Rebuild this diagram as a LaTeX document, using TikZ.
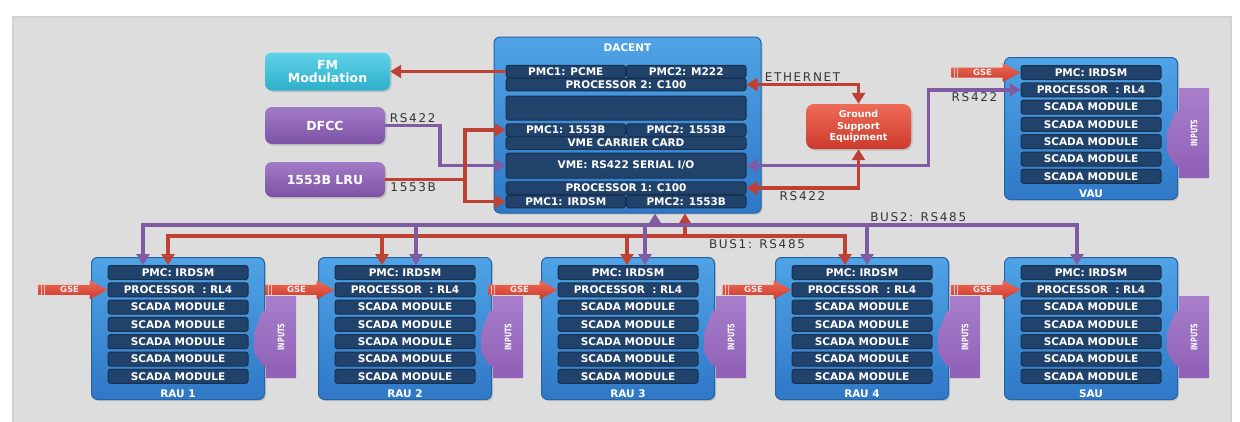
\documentclass[tikz,border=0pt]{standalone}
\usepackage{fontspec}
\setmainfont{DejaVu Sans}
\newfontfamily\linkfamily[LetterSpace=14]{DejaVu Sans}
\usetikzlibrary{positioning, chains, arrows.meta, shadows}

\definecolor{panelgray}{HTML}{DDDDDD}
\definecolor{boxtop}{HTML}{4FA3E6}
\definecolor{boxbot}{HTML}{2F78C6}
\definecolor{boxedge}{HTML}{2563A8}
\definecolor{rowfill}{HTML}{21426B}
\definecolor{rowedge}{HTML}{173152}
\definecolor{linkred}{HTML}{BF4134}
\definecolor{linkpurple}{HTML}{7E5BA3}
\definecolor{linkgray}{HTML}{353535}
\definecolor{fmtop}{HTML}{5ED2E8}
\definecolor{fmbot}{HTML}{2FAFCB}
\definecolor{lrutop}{HTML}{A27BC6}
\definecolor{lrubot}{HTML}{7D52A6}
\definecolor{gsetop}{HTML}{EE6B57}
\definecolor{gsebot}{HTML}{CC3A2C}
\definecolor{inputtop}{HTML}{A87ECC}
\definecolor{inputbot}{HTML}{8F60B6}

\newcommand{\rowfont}{\fontsize{10.5}{12}\selectfont\bfseries}
\newcommand{\linkfont}{\fontsize{12}{14}\selectfont\linkfamily}

\tikzset{
  unitbox/.style={draw=boxedge, line width=1pt, rounded corners=6pt,
    top color=boxtop, bottom color=boxbot,
    drop shadow={opacity=0.3, shadow xshift=1.5pt, shadow yshift=-1.5pt}},
  cardrow/.style={draw=rowedge, line width=1pt, fill=rowfill, rounded corners=2.5pt,
    text=white, font=\rowfont, inner sep=0pt, minimum width=140pt, minimum height=14pt},
  halfrow/.style={cardrow, minimum width=119.5pt, minimum height=12.5pt},
  fullrow/.style={cardrow, minimum width=240pt, minimum height=12.5pt},
  unitname/.style={text=white, font=\rowfont, inner sep=0pt},
  extbox/.style={rounded corners=7pt, text=white, align=center, inner sep=0pt,
    drop shadow={opacity=0.3, shadow xshift=1.5pt, shadow yshift=-1.5pt}},
  fmbox/.style={extbox, top color=fmtop, bottom color=fmbot},
  lrubox/.style={extbox, top color=lrutop, bottom color=lrubot},
  gsebox/.style={extbox, top color=gsetop, bottom color=gsebot, rounded corners=8pt},
  redlink/.style={draw=linkred, line width=3.5pt},
  purplelink/.style={draw=linkpurple, line width=3.5pt},
  linktext/.style={font=\linkfont, text=linkgray, inner sep=1.5pt},
  gsearrow/.style={top color=gsetop, bottom color=gsebot},
  gsetext/.style={text=white!90!linkred, font=\fontsize{8.5}{9}\selectfont\bfseries, inner sep=0pt},
  inputs/.style={top color=inputtop, bottom color=inputbot},
  inputtext/.style={text=white, font=\fontsize{9}{10}\selectfont\bfseries, rotate=90, inner sep=0pt},
  >={Triangle[length=11pt, width=13pt]}
}

\begin{document}
\begin{tikzpicture}[x=1pt, y=-1pt]
  \useasboundingbox (0,0) rectangle (1240,421);
  \fill[white] (0,0) rectangle (1240,421);
  \filldraw[panelgray, draw=black!18, line width=1.5pt] (13,17) rectangle (1231,430);

  % DACENT chassis
  \node[unitbox, minimum width=267pt, minimum height=176pt] (dacent) at (627.5,125) {};
  \node[unitname, below=7pt of dacent.north] (dac-title) {DACENT};

  \node[halfrow] (dac-pcme)  at (565.75,71.5) {PMC1: PCME};
  \node[halfrow] (dac-m222)  at (686.25,71.5) {PMC2: M222};
  \node[fullrow] (dac-p2)    at (626,84.5)    {PROCESSOR 2: C100};
  \node[fullrow, minimum height=24pt] (dac-spare) at (626,108) {};
  \node[halfrow] (dac-1553a) at (565.75,130)  {PMC1: 1553B};
  \node[halfrow] (dac-1553b) at (686.25,130)  {PMC2: 1553B};
  \node[fullrow] (dac-vmecc) at (626,143)     {VME CARRIER CARD};
  \node[fullrow, minimum height=25pt] (dac-vme) at (626,165.5) {VME: RS422 SERIAL I/O};
  \node[fullrow] (dac-p1)    at (626,188)     {PROCESSOR 1: C100};
  \node[halfrow] (dac-irdsm) at (565.75,201.5) {PMC1: IRDSM};
  \node[halfrow] (dac-1553c) at (686.25,201.5) {PMC2: 1553B};

  % units on the left and the GSE
  \node[fmbox, minimum width=125pt, minimum height=38pt,
        font=\fontsize{12.5}{13.7}\selectfont\bfseries] (fm) at (327.5,71.5) {FM\\Modulation};
  \node[lrubox, minimum width=120pt, minimum height=37pt,
        font=\fontsize{12.5}{14}\selectfont\bfseries] (dfcc) at (325,125.5) {DFCC};
  \node[lrubox, minimum width=120pt, minimum height=35pt,
        font=\fontsize{12.5}{14}\selectfont\bfseries] (lru) at (325,179.5) {1553B LRU};
  \node[gsebox, minimum width=105pt, minimum height=45pt,
        font=\fontsize{9.5}{11.7}\selectfont\bfseries] (gse) at (858.5,126.5) {Ground\\Support\\Equipment};

  % remote acquisition units
  \foreach \u/\x/\y/\t/\name in {rau1/91/257/39/RAU 1, rau2/318/257/39/RAU 2,
      rau3/541/257/39/RAU 3, rau4/775/257/39/RAU 4, sau/1004/257/39/SAU, vau/1004/57/31/VAU} {
    \node[unitbox, anchor=north west, minimum width=173pt, minimum height=142pt] (\u) at (\x,\y) {};
    \begin{scope}[start chain=going below, node distance=2.3pt]
      \node[cardrow, on chain, below=8pt of \u.north] (\u-pmc) {PMC: IRDSM};
      \node[cardrow, on chain] (\u-proc) {PROCESSOR\ \ : RL4};
      \node[cardrow, on chain] (\u-s1) {SCADA MODULE};
      \node[cardrow, on chain] (\u-s2) {SCADA MODULE};
      \node[cardrow, on chain] (\u-s3) {SCADA MODULE};
      \node[cardrow, on chain] (\u-s4) {SCADA MODULE};
      \node[cardrow, on chain] (\u-s5) {SCADA MODULE};
    \end{scope}
    \node[unitname, below=6pt of \u-s5] (\u-name) {\name};
    \begin{scope}[shift={(\u.north east)}]
      \path[inputs] (31,\t) -- (1,\t) -- (1,53) -- (-3,55) -- (-11,76) -- (-11,95)
        -- (-3,108) -- (1,110) -- (1,121) -- (31,121) -- cycle;
      \node[inputtext] (\u-in) at (16,{(\t+121)/2}) {\scalebox{0.72}[1]{INPUTS}};
    \end{scope}
  }

  % GSE feeds
  \foreach \r in {rau1-proc, rau2-proc, rau3-proc, rau4-proc, sau-proc, vau-pmc} {
    \begin{scope}[shift={(\r.west)}]
      \path[gsearrow] (0,0) -- (-18,-9.5) -- (-18,-5) -- (-69,-5) -- (-69,5)
        -- (-18,5) -- (-18,9.5) -- cycle;
      \draw[white!65!linkred, line width=0.8pt] (-66,-5) -- (-66,5) (-63,-5) -- (-63,5);
      \node[gsetext] (\r-gse) at (-38,0) {GSE};
    \end{scope}
  }

  % links on the left
  \draw[redlink, ->] (dac-pcme.west) -- (fm.east);
  \draw[purplelink, ->] (dfcc.east) -- node[linktext, above] (dfcc-tag) {RS422} ++(55,0) |- (dac-vme.west);
  \path (lru.east) ++(80,0) coordinate (lru-split);
  \draw[redlink] (lru.east) -- node[linktext, below, pos=0.35] (lru-tag) {1553B} (lru-split);
  \draw[redlink, ->] (lru-split) |- (dac-1553a.west);
  \draw[redlink, ->] (lru-split) |- (dac-irdsm.west);

  % links on the right
  \draw[purplelink, <->] (dac-vme.east) -- ++(182,0) |- node[linktext, below, pos=0.75] (vau-tag) {RS422} (vau-proc.west);
  \draw[redlink, <->] (dac-p2.east) -| node[linktext, above, pos=0.25] (eth-tag) {ETHERNET} (gse.north);
  \draw[redlink, <->] (dac-p1.east) -| node[linktext, below, pos=0.25] (gse-tag) {RS422} (gse.south);

  % RS485 buses
  \coordinate (b1-rau1) at (168,236);
  \coordinate (b1-rau2) at (382,236);
  \coordinate (b1-rau3) at (627,236);
  \coordinate (b1-dac)  at (685,236);
  \coordinate (b1-rau4) at (845,236);
  \coordinate (b2-rau1) at (143,225);
  \coordinate (b2-rau2) at (416,225);
  \coordinate (b2-rau3) at (645,225);
  \coordinate (b2-dac)  at (655,225);
  \coordinate (b2-rau4) at (867,225);
  \coordinate (b2-sau)  at (1077,225);

  \draw[redlink, <->] (b1-rau1 |- rau1-pmc.north) -- (b1-rau1)
    -- node[linktext, below, pos=0.87] (bus1-tag) {BUS1: RS485} (b1-rau4) -- (b1-rau4 |- rau4-pmc.north);
  \draw[redlink, ->] (b1-rau2) -- (b1-rau2 |- rau2-pmc.north);
  \draw[redlink, ->] (b1-rau3) -- (b1-rau3 |- rau3-pmc.north);
  \draw[redlink, ->] (b1-dac) -- (b1-dac |- dacent.south);

  \draw[purplelink, <->] (b2-rau1 |- rau1-pmc.north) -- (b2-rau1)
    -- node[linktext, above, pos=0.83] (bus2-tag) {BUS2: RS485} (b2-sau) -- (b2-sau |- sau-pmc.north);
  \draw[purplelink, ->] (b2-rau2) -- (b2-rau2 |- rau2-pmc.north);
  \draw[purplelink, ->] (b2-rau3) -- (b2-rau3 |- rau3-pmc.north);
  \draw[purplelink, ->] (b2-rau4) -- (b2-rau4 |- rau4-pmc.north);
  \draw[purplelink, ->] (b2-dac) -- (b2-dac |- dacent.south);
\end{tikzpicture}
\end{document}
